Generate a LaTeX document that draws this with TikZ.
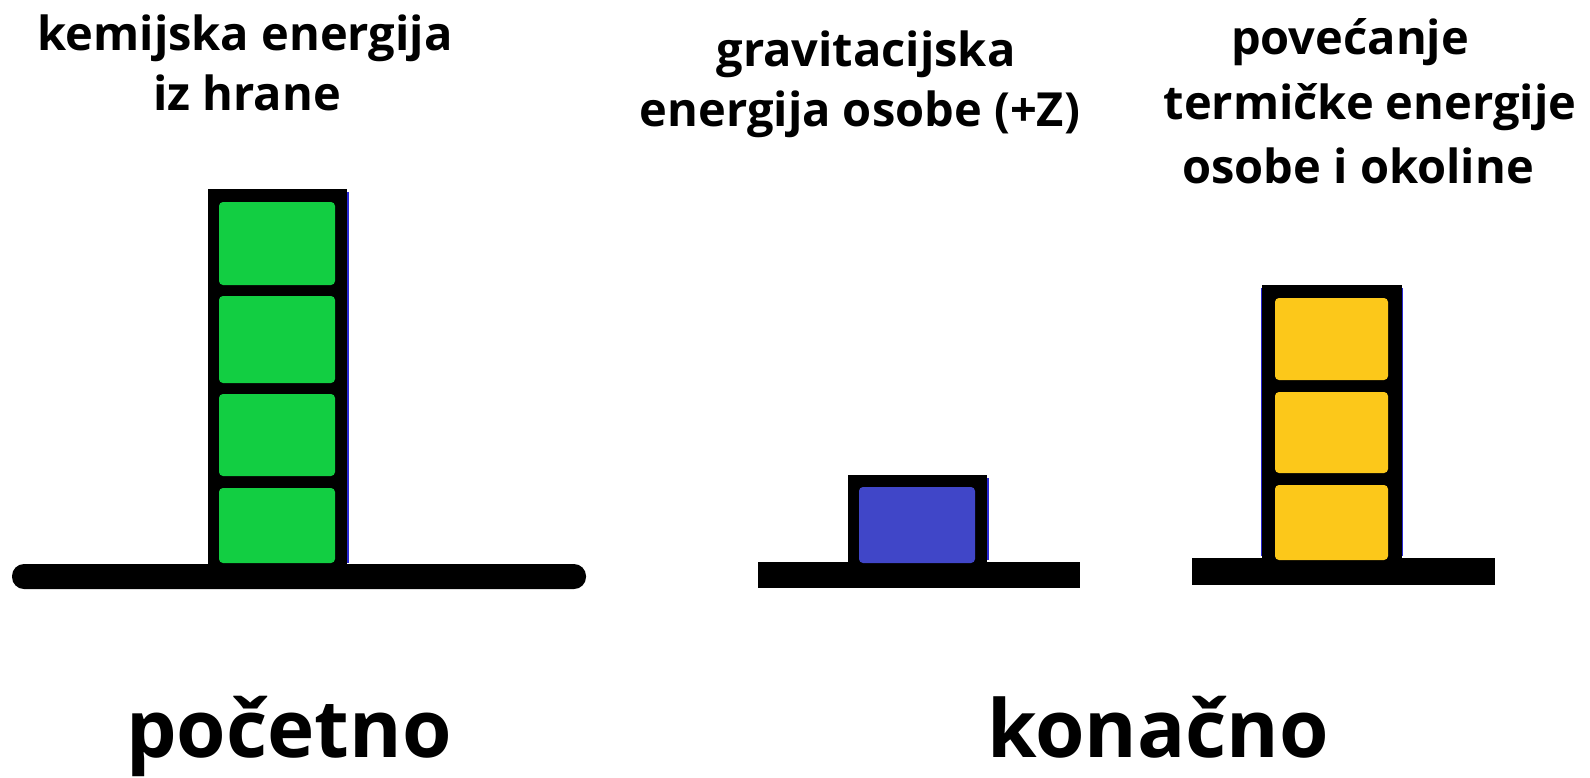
\documentclass[tikz,border=0pt]{standalone}
\usepackage{fontspec}
\setmainfont{Open Sans}
\definecolor{cgreen}{RGB}{18,206,66}
\definecolor{cblue}{RGB}{64,70,200}
\definecolor{cyellow}{RGB}{252,200,26}
\definecolor{edgeblue}{RGB}{40,40,210}
\begin{document}
\begin{tikzpicture}[x=1pt,y=-1pt,
  cell/.style={rounded corners=4pt},
  edge/.style={edgeblue,line width=1.5pt},
  lbl/.style={font=\fontsize{47}{56}\selectfont\bfseries,anchor=base,inner sep=0pt},
  big/.style={font=\fontsize{80}{94}\selectfont\bfseries,anchor=base,inner sep=0pt}]
\useasboundingbox (0,0) rectangle (1590,777);
\fill[white] (0,0) rectangle (1590,777);

% ---------- left: initial ----------
\fill[rounded corners=12pt] (12,564) rectangle (586,589);
\fill (208,189) rectangle (347,570);
\draw[edge] (348,192) -- (348,563);
\fill[cgreen,cell] (219,202) rectangle (335,285);
\fill[cgreen,cell] (219,296) rectangle (335,383);
\fill[cgreen,cell] (219,394) rectangle (335,476);
\fill[cgreen,cell] (219,488) rectangle (335,563);

% ---------- middle: gravitational ----------
\fill (758,562) rectangle (1080,588);
\fill (848,475) rectangle (987,570);
\draw[edge] (988,478) -- (988,560);
\fill[cblue,cell] (859,487) rectangle (975,563);

% ---------- right: thermal ----------
\fill (1192,558) rectangle (1495,585);
\fill (1262,285) rectangle (1402,565);
\draw[edge] (1261.5,288) -- (1261.5,556);
\draw[edge] (1402.5,288) -- (1402.5,556);
\fill[cyellow,cell] (1275,298) rectangle (1388,380);
\fill[cyellow,cell] (1275,392) rectangle (1388,473);
\fill[cyellow,cell] (1275,485) rectangle (1388,560);

% ---------- labels ----------
\node[lbl] (k1) at (245,50) {kemijska energija};
\node[lbl] (k2) at (247,110) {iz hrane};
\node[lbl] (g1) at (866,66) {gravitacijska};
\node[lbl] (g2) at (860,126) {energija osobe (+Z)};
\node[lbl] (t1) at (1350,54) {povećanje};
\node[lbl] (t2) at (1370,119) {termičke energije};
\node[lbl] (t3) at (1358,183) {osobe i okoline};

\node[big] (poc) at (289,757) {početno};
\node[big] (kon) at (1158,757) {konačno};
\end{tikzpicture}
\end{document}
